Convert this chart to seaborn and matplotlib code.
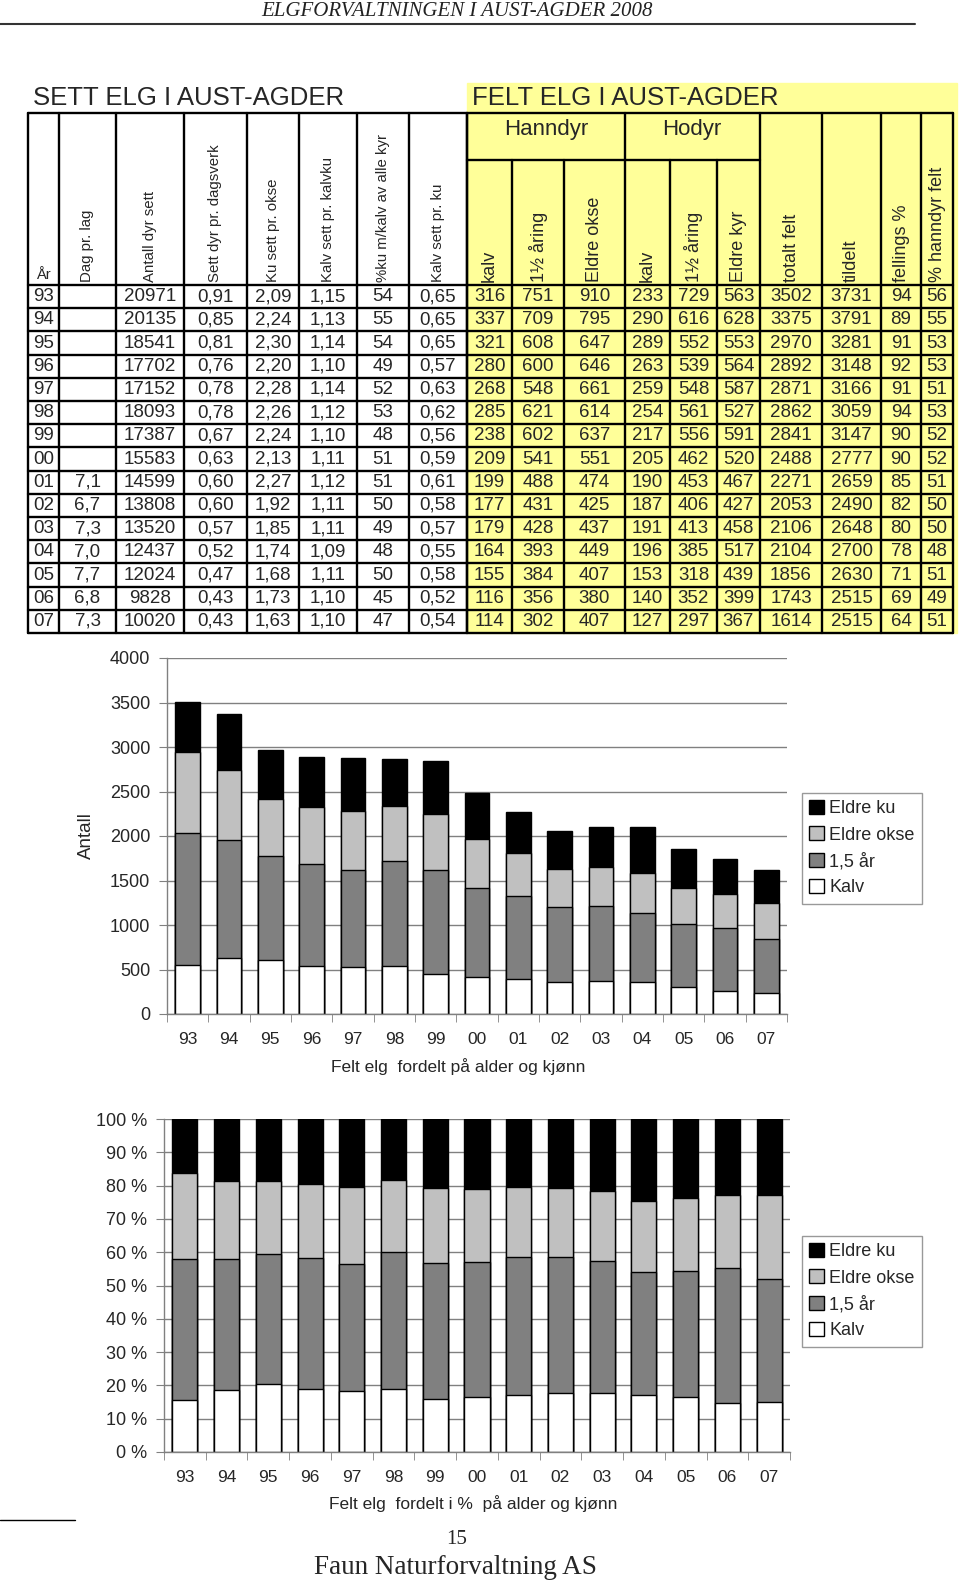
import numpy as np
import matplotlib
matplotlib.use("Agg")
import matplotlib.pyplot as plt
import seaborn as sns
from matplotlib.patches import Patch, Rectangle

# --- data (sett elg) ---
years = ['93', '94', '95', '96', '97', '98', '99', '00', '01', '02', '03', '04', '05', '06', '07']
dag_pr_lag = [None, None, None, None, None, None, None, None, 7.1, 6.7, 7.3, 7.0, 7.7, 6.8, 7.3]
antall_sett = [20971, 20135, 18541, 17702, 17152, 18093, 17387, 15583, 14599, 13808, 13520, 12437, 12024, 9828, 10020]
sett_pr_dagsverk = [0.91, 0.85, 0.81, 0.76, 0.78, 0.78, 0.67, 0.63, 0.60, 0.60, 0.57, 0.52, 0.47, 0.43, 0.43]
ku_pr_okse = [2.09, 2.24, 2.30, 2.20, 2.28, 2.26, 2.24, 2.13, 2.27, 1.92, 1.85, 1.74, 1.68, 1.73, 1.63]
kalv_pr_kalvku = [1.15, 1.13, 1.14, 1.10, 1.14, 1.12, 1.10, 1.11, 1.12, 1.11, 1.11, 1.09, 1.11, 1.10, 1.10]
pct_ku_m_kalv = [54, 55, 54, 49, 52, 53, 48, 51, 51, 50, 49, 48, 50, 45, 47]
kalv_pr_ku = [0.65, 0.65, 0.65, 0.57, 0.63, 0.62, 0.56, 0.59, 0.61, 0.58, 0.57, 0.55, 0.58, 0.52, 0.54]

# --- data (felt elg) ---
hann_kalv = [316, 337, 321, 280, 268, 285, 238, 209, 199, 177, 179, 164, 155, 116, 114]
hann_15 = [751, 709, 608, 600, 548, 621, 602, 541, 488, 431, 428, 393, 384, 356, 302]
eldre_okse = [910, 795, 647, 646, 661, 614, 637, 551, 474, 425, 437, 449, 407, 380, 407]
ho_kalv = [233, 290, 289, 263, 259, 254, 217, 205, 190, 187, 191, 196, 153, 140, 127]
ho_15 = [729, 616, 552, 539, 548, 561, 556, 462, 453, 406, 413, 385, 318, 352, 297]
eldre_kyr = [563, 628, 553, 564, 587, 527, 591, 520, 467, 427, 458, 517, 439, 399, 367]
totalt_felt = [3502, 3375, 2970, 2892, 2871, 2862, 2841, 2488, 2271, 2053, 2106, 2104, 1856, 1743, 1614]
tildelt = [3731, 3791, 3281, 3148, 3166, 3059, 3147, 2777, 2659, 2490, 2648, 2700, 2630, 2515, 2515]
fellings_pct = [94, 89, 91, 92, 91, 94, 90, 90, 85, 82, 80, 78, 71, 69, 64]
hanndyr_pct = [56, 55, 53, 53, 51, 53, 52, 52, 51, 50, 50, 48, 51, 49, 51]

left_headers = ["Dag pr. lag", "Antall dyr sett", "Sett dyr pr. dagsverk", "Ku sett pr. okse",
                "Kalv sett pr. kalvku", "%ku m/kalv av alle kyr", "Kalv sett pr. ku"]
right_headers = ["kalv", "1½ åring", "Eldre okse", "kalv", "1½ åring", "Eldre kyr",
                 "totalt felt", "tildelt", "fellings %", "% hanndyr felt"]
series_names = ["Kalv", "1,5 år", "Eldre okse", "Eldre ku"]
series_colors = ["white", "#808080", "#C0C0C0", "black"]

sns.set_style("white")
plt.rcParams['font.family'] = ['Liberation Sans', 'DejaVu Sans']


def fmt(v, dec=0):
    if v is None:
        return ""
    return f"{v:.{dec}f}".replace('.', ',')


fig = plt.figure(figsize=(9.6, 15.85), dpi=100)

# page layer in pixel coordinates for table and page text
page = fig.add_axes([0, 0, 1, 1])
page.set_xlim(0, 960)
page.set_ylim(1585, 0)
page.axis('off')

serif = ['Liberation Serif', 'DejaVu Serif']
page.text(457, 11, "ELGFORVALTNINGEN I AUST-AGDER 2008", family=serif, style='italic',
          fontsize=15, ha='center', va='center', color='#222222')
page.plot([0, 915], [24, 24], color='#333333', lw=1.5)

# table
left_edges = [28, 59, 116, 184, 247, 299, 357, 409, 467]
right_edges = [467, 512, 564, 625, 670, 717, 760, 822, 881, 921, 953]
top, sub, head_bot = 113, 160, 285
row_h = (633 - head_bot) / len(years)
bottom = head_bot + row_h * len(years)

page.add_patch(Rectangle((467, 83), 490, bottom - 83, color='#FFFF99', zorder=0))
page.text(33, 98, "SETT ELG I AUST-AGDER", fontsize=18.5, ha='left', va='center')
page.text(472, 98, "FELT ELG I AUST-AGDER", fontsize=18.5, ha='left', va='center')

lw = 1.7
for y in [top, head_bot] + [head_bot + row_h * k for k in range(1, len(years) + 1)]:
    page.plot([28, 953], [y, y], color='black', lw=lw)
page.plot([467, 760], [sub, sub], color='black', lw=lw)
for x in left_edges:
    page.plot([x, x], [top, bottom], color='black', lw=lw)
for x in right_edges:
    y0 = sub if x in (512, 564, 670, 717) else top
    page.plot([x, x], [y0, bottom], color='black', lw=lw)

page.text(546, 129, "Hanndyr", fontsize=16, ha='center', va='center')
page.text(692, 129, "Hodyr", fontsize=16, ha='center', va='center')
page.text((left_edges[0] + left_edges[1]) / 2, 282, "År", fontsize=10.5, ha='center', va='bottom')
for i, lab in enumerate(left_headers):
    cx = (left_edges[i + 1] + left_edges[i + 2]) / 2
    page.text(cx, 282, lab, fontsize=10.8, rotation=90, ha='center', va='bottom')
for i, lab in enumerate(right_headers):
    cx = (right_edges[i] + right_edges[i + 1]) / 2
    page.text(cx, 282, lab, fontsize=13, rotation=90, ha='center', va='bottom')

left_cols = [(years, None), (dag_pr_lag, 1), (antall_sett, 0), (sett_pr_dagsverk, 2), (ku_pr_okse, 2),
             (kalv_pr_kalvku, 2), (pct_ku_m_kalv, 0), (kalv_pr_ku, 2)]
right_cols = [hann_kalv, hann_15, eldre_okse, ho_kalv, ho_15, eldre_kyr,
              totalt_felt, tildelt, fellings_pct, hanndyr_pct]
for r in range(len(years)):
    cy = head_bot + row_h * (r + 0.5)
    for c, (vals, dec) in enumerate(left_cols):
        txt = vals[r] if dec is None else fmt(vals[r], dec)
        page.text((left_edges[c] + left_edges[c + 1]) / 2, cy, txt, fontsize=13.5, ha='center', va='center')
    for c, vals in enumerate(right_cols):
        page.text((right_edges[c] + right_edges[c + 1]) / 2, cy, str(vals[r]), fontsize=13.5,
                  ha='center', va='center')

# footer
page.plot([0, 75], [1520, 1520], color='black', lw=1)
page.text(457, 1539, "15", family=serif, fontsize=15, ha='center', va='center')
page.text(455, 1568, "Faun Naturforvaltning AS", family=serif, fontsize=19.5, ha='center', va='center')

# --- stacked charts ---
kalv = np.array(hann_kalv) + np.array(ho_kalv)
ett_halvt = np.array(hann_15) + np.array(ho_15)
layers = [kalv, ett_halvt, np.array(eldre_okse), np.array(eldre_kyr)]
total = sum(layers)
pct_layers = [l / total * 100 for l in layers]


def stacked(ax, parts):
    tops = np.cumsum(parts, axis=0)
    for k in range(len(parts) - 1, -1, -1):
        sns.barplot(x=years, y=tops[k], order=years, color=series_colors[k], saturation=1,
                    width=0.6, edgecolor='black', linewidth=1, errorbar=None, ax=ax, zorder=2)
    ax.set_xlim(-0.5, len(years) - 0.5)
    ax.yaxis.grid(True, color='#808080', lw=1)
    ax.set_axisbelow(True)
    for s in ['top', 'right']:
        ax.spines[s].set_visible(False)
    for s in ['left', 'bottom']:
        ax.spines[s].set_color('#808080')
        ax.spines[s].set_linewidth(1)
    ax.tick_params(axis='y', left=True, length=6, color='#808080', labelsize=13, pad=6)
    ax.tick_params(axis='x', which='major', length=0, pad=13, labelsize=12.5)
    ax.set_xticks(np.arange(-0.5, len(years), 1), minor=True)
    ax.tick_params(axis='x', which='minor', bottom=True, length=6, color='#808080')
    handles = [Patch(facecolor=series_colors[k], edgecolor='black', lw=1, label=series_names[k])
               for k in range(3, -1, -1)]
    return handles


ax1 = fig.add_axes([167 / 960, 1 - 1014 / 1585, 620 / 960, 356 / 1585])
h = stacked(ax1, layers)
ax1.set_ylim(0, 4000)
ax1.set_yticks(range(0, 4001, 500))
ax1.set_ylabel("Antall", fontsize=13.5, labelpad=11)
ax1.set_xlabel("Felt elg  fordelt på alder og kjønn", fontsize=12.5)
ax1.xaxis.set_label_coords((458 - 167) / 620, -0.125)
ax1.legend(handles=h, loc='upper left', bbox_to_anchor=(802 / 960, 1 - 793 / 1585),
           bbox_transform=fig.transFigure, borderaxespad=0, fontsize=13, frameon=True,
           fancybox=False, edgecolor='#808080', handlelength=0.8, handleheight=0.8,
           handletextpad=0.3, labelspacing=0.5, borderpad=0.4)

ax2 = fig.add_axes([164 / 960, 1 - 1452 / 1585, 626 / 960, 333 / 1585])
h = stacked(ax2, pct_layers)
ax2.set_ylim(0, 100)
ax2.set_yticks(range(0, 101, 10))
ax2.set_yticklabels([f"{v} %" for v in range(0, 101, 10)])
ax2.set_ylabel("")
ax2.set_xlabel("Felt elg  fordelt i %  på alder og kjønn", fontsize=12.5)
ax2.xaxis.set_label_coords((473 - 164) / 626, -0.128)
ax2.legend(handles=h, loc='upper left', bbox_to_anchor=(802 / 960, 1 - 1236 / 1585),
           bbox_transform=fig.transFigure, borderaxespad=0, fontsize=13, frameon=True,
           fancybox=False, edgecolor='#808080', handlelength=0.8, handleheight=0.8,
           handletextpad=0.3, labelspacing=0.5, borderpad=0.4)

fig.savefig("out.png", dpi=100)
